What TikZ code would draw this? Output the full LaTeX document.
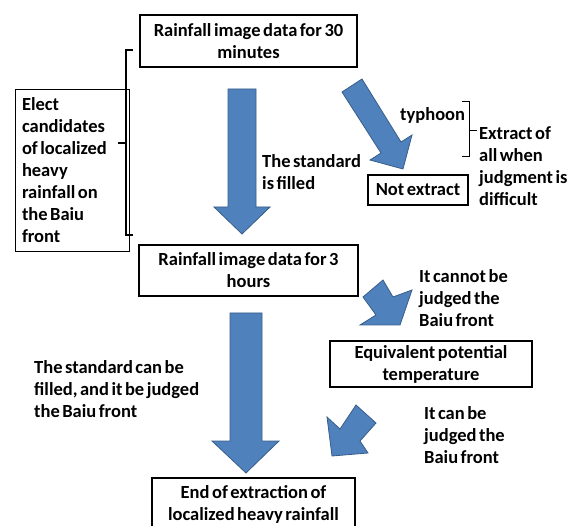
\documentclass[tikz,border=0pt]{standalone}
\usepackage{fontspec}
\setmainfont{Carlito}[WordSpace=0.6]
\definecolor{arrowblue}{RGB}{79,129,189}
\definecolor{arrowedge}{RGB}{56,93,138}

\begin{document}
\begin{tikzpicture}[x=1pt,y=-1pt,
    every node/.style={font=\fontsize{18.5}{22}\selectfont\bfseries},
    stepbox/.style={draw,line width=1.6pt,align=center,inner sep=0pt},
    note/.style={align=left,inner sep=0pt,anchor=west},
    blockarrow/.style={fill=arrowblue,draw=arrowedge,line width=0.8pt,line join=miter}]
  \useasboundingbox (0,0) rectangle (573,526);
  % boxes
  \node[stepbox,minimum width=217pt,minimum height=52pt] (min30) at (248.5,41) {Rainfall image data for 30\\minutes};
  \node[stepbox,minimum width=219pt,minimum height=51pt] (hour3) at (248.5,270.5) {Rainfall image data for 3\\hours};
  \node[stepbox,minimum width=100pt,minimum height=30pt] (noext) at (418,190) {Not extract};
  \node[stepbox,minimum width=202pt,minimum height=46pt] (ept) at (431,364) {Equivalent potential\\temperature};
  \node[stepbox,minimum width=203pt,minimum height=52pt] (endx) at (253.5,504) {End of extraction of\\localized heavy rainfall};
  \node[draw,line width=0.6pt,align=flush left,text width=100pt,inner xsep=7pt,minimum height=162pt] (elect) at (72,170)
    {Elect\\candidates\\of localized\\heavy\\rainfall on\\the Baiu\\front};
  % labels
  \node[note] (filled) at (262,172.5) {The standard\\is filled};
  \node[note] (typh) at (400,115) {typhoon};
  \node[note] (all) at (479,166) {Extract of\\all when\\judgment is\\difficult};
  \node[note] (cannot) at (419,298.5) {It cannot be\\judged the\\Baiu front};
  \node[note] (judged) at (34,389) {The standard can be\\filled, and it be judged\\the Baiu front};
  \node[note] (can) at (424,435) {It can be\\judged the\\Baiu front};
  % braces
  \draw[line width=1.5pt] (133,50) -- (126,50) -- (126,235) -- (133,235) (126,143) -- (118,143);
  \draw[line width=1pt] (462,102) -- (469,102) -- (469,157) -- (462,157) (469,131) -- (477,131);
  % block arrows
  \filldraw[blockarrow] (228,89) -- (256,89) -- (256,207) -- (270,207) -- (242,234) -- (214,207) -- (228,207) -- cycle;
  \filldraw[blockarrow] (342,92) -- (362,79) -- (401,142) -- (412,135) -- (403,169) -- (370,160) -- (381,153) -- cycle;
  \filldraw[blockarrow] (230,313) -- (262,313) -- (262,441) -- (279,441) -- (246,473) -- (212,441) -- (230,441) -- cycle;
  \filldraw[blockarrow] (383,280) -- (393,297) -- (412,290) -- (400,325) -- (360,325) -- (376,315) -- (363,297) -- cycle;
  \filldraw[blockarrow] (356,405) -- (376,423) -- (360,441) -- (368,453) -- (332,456) -- (327,417) -- (340,429) -- cycle;
\end{tikzpicture}
\end{document}
